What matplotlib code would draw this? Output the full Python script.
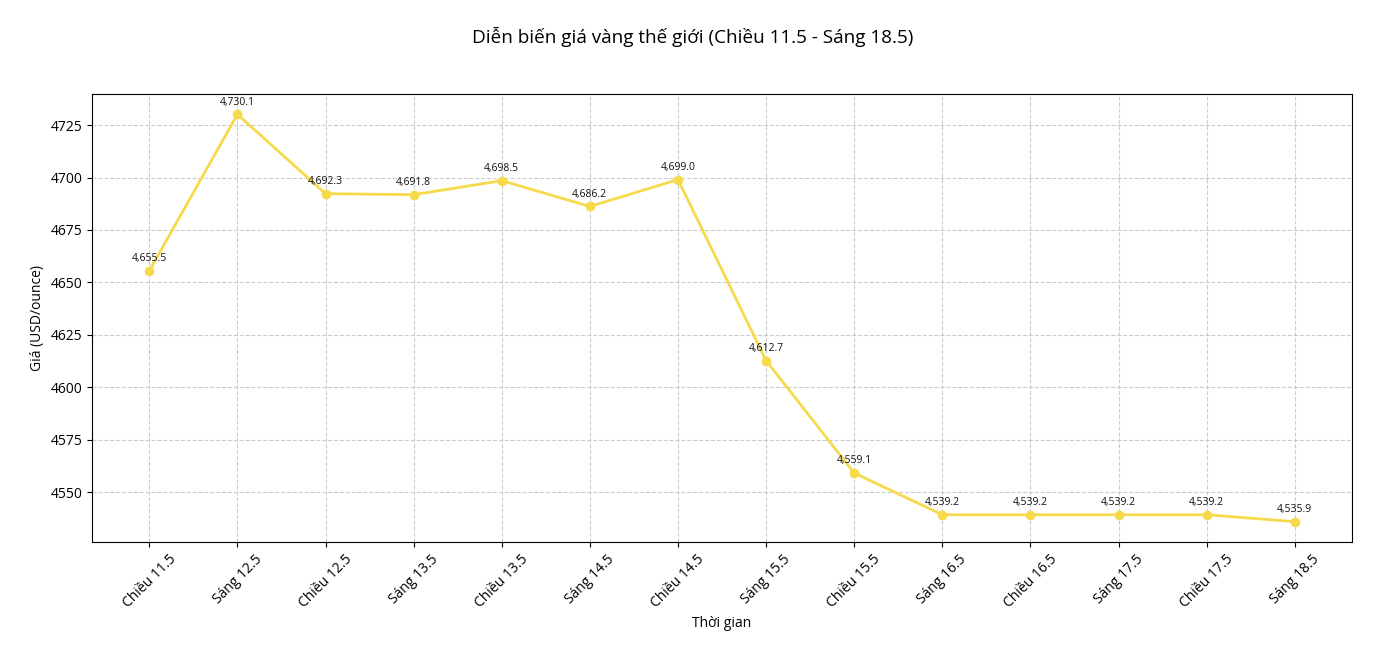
import matplotlib
matplotlib.use("Agg")
import matplotlib.pyplot as plt

plt.rcParams['font.family'] = ['Open Sans', 'DejaVu Sans']

labels = ["Chiều 11.5", "Sáng 12.5", "Chiều 12.5", "Sáng 13.5", "Chiều 13.5", "Sáng 14.5",
          "Chiều 14.5", "Sáng 15.5", "Chiều 15.5", "Sáng 16.5", "Chiều 16.5", "Sáng 17.5",
          "Chiều 17.5", "Sáng 18.5"]
prices = [4655.5, 4730.1, 4692.3, 4691.8, 4698.5, 4686.2, 4699.0, 4612.7, 4559.1,
          4539.2, 4539.2, 4539.2, 4539.2, 4535.9]

fig = plt.figure(figsize=(13.86, 6.64), dpi=100)
ax = fig.add_axes([0.0664, 0.1837, 0.9091, 0.6747])
x = list(range(len(labels)))
ax.plot(x, prices, color="#F7D94C", linewidth=2, marker="o", markersize=6)
for xi, v in zip(x, prices):
    ax.annotate(f"{v:,.1f}", (xi, v), textcoords="offset points", xytext=(0, 7),
                ha="center", fontsize=7.5, color="#111111")
ax.set_xticks(x)
ax.set_xticklabels(labels, rotation=45, fontsize=10)
ax.tick_params(axis="y", labelsize=10)
ax.grid(True, linestyle="--", color="#cccccc", linewidth=0.8)
ax.set_axisbelow(True)
ax.set_xlabel("Thời gian", fontsize=10)
ax.set_ylabel("Giá (USD/ounce)", fontsize=10)
fig.suptitle("Diễn biến giá vàng thế giới (Chiều 11.5 - Sáng 18.5)", fontsize=13.6, y=0.96)
fig.savefig("out.png", dpi=100)
